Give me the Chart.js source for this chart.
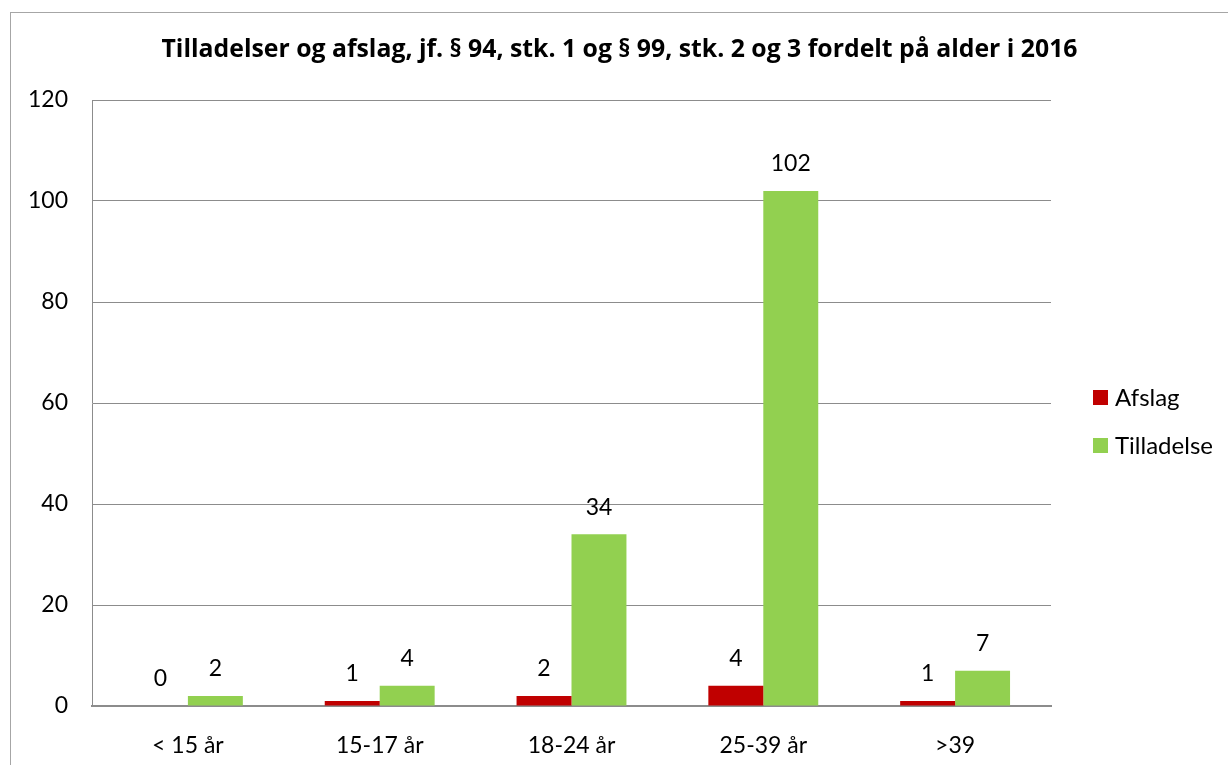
<!DOCTYPE html>
<html>
<head>
<meta charset="utf-8">
<script src="https://cdn.jsdelivr.net/npm/chart.js@4"></script>
<style>
    html, body { margin: 0; background: #fff; overflow: hidden; }
    #frame { position: absolute; left: 10px; top: 12px; width: 1230px; height: 770px; border: 1px solid #a6a6a6; }
    #wrap { position: absolute; left: 11px; top: 13px; width: 1217px; height: 752px; }
</style>
</head>
<body>
<div id="frame"></div>
<div id="wrap"><canvas id="chart"></canvas></div>
<script>
    const categories = ["< 15 år", "15-17 år", "18-24 år", "25-39 år", ">39"];
    const afslag = [0, 1, 2, 4, 1];
    const tilladelse = [2, 4, 34, 102, 7];
    const titleText = "Tilladelser og afslag, jf. § 94, stk. 1 og § 99, stk. 2 og 3 fordelt på alder i 2016";

    const fontFamily = "Lato, 'Noto Sans', sans-serif";
    const titleFamily = "'Open Sans', Lato, sans-serif";

    // numbers above each bar
    const valueLabels = {
        id: "valueLabels",
        afterDatasetsDraw(chart) {
            const ctx = chart.ctx;
            ctx.save();
            ctx.font = "23px " + fontFamily;
            ctx.fillStyle = "#000";
            ctx.textAlign = "center";
            ctx.textBaseline = "middle";
            chart.data.datasets.forEach((ds, i) => {
                chart.getDatasetMeta(i).data.forEach((bar, j) => {
                    ctx.fillText(ds.data[j], bar.x, bar.y - 27);
                });
            });
            ctx.restore();
        }
    };

    // title centred over the whole frame, legend on the right
    const decorations = {
        id: "decorations",
        afterDraw(chart) {
            const ctx = chart.ctx;
            const area = chart.chartArea;
            ctx.save();
            ctx.fillStyle = "#000";
            ctx.textAlign = "center";
            ctx.textBaseline = "middle";
            ctx.font = "bold 24.8px " + titleFamily;
            ctx.fillText(titleText, chart.width / 2, 37);

            ctx.font = "24px " + fontFamily;
            ctx.textAlign = "left";
            const x = area.right + 42;
            let y = (area.top + area.bottom) / 2 - 6;
            chart.data.datasets.forEach(ds => {
                ctx.fillStyle = ds.backgroundColor;
                ctx.fillRect(x, y - 7, 15, 15);
                ctx.fillStyle = "#000";
                ctx.fillText(ds.label, x + 22, y + 1);
                y += 48;
            });
            ctx.restore();
        }
    };

    new Chart(document.getElementById("chart"), {
        type: "bar",
        data: {
            labels: categories,
            datasets: [
                { label: "Afslag", data: afslag, backgroundColor: "#C00000" },
                { label: "Tilladelse", data: tilladelse, backgroundColor: "#92D050" }
            ]
        },
        options: {
            responsive: true,
            maintainAspectRatio: false,
            animation: false,
            categoryPercentage: 0.573,
            barPercentage: 1,
            layout: { padding: { left: 0, right: 177, top: 87, bottom: 0 } },
            plugins: {
                tooltip: { enabled: false },
                legend: { display: false },
                title: { display: false }
            },
            scales: {
                x: {
                    grid: { display: false, drawTicks: false },
                    border: { display: true, color: "#8c8c8c", width: 2 },
                    ticks: { color: "#000", font: { family: fontFamily, size: 23 }, padding: 26 },
                    afterFit(scale) { scale.height = 59; }
                },
                y: {
                    min: 0,
                    max: 120,
                    ticks: { stepSize: 20, color: "#000", font: { family: fontFamily, size: 23 }, padding: 24 },
                    grid: { color: "#8c8c8c", drawTicks: false },
                    border: { display: true, color: "#8c8c8c" },
                    afterFit(scale) { scale.width = 81; }
                }
            }
        },
        plugins: [valueLabels, decorations]
    });
</script>
</body>
</html>
